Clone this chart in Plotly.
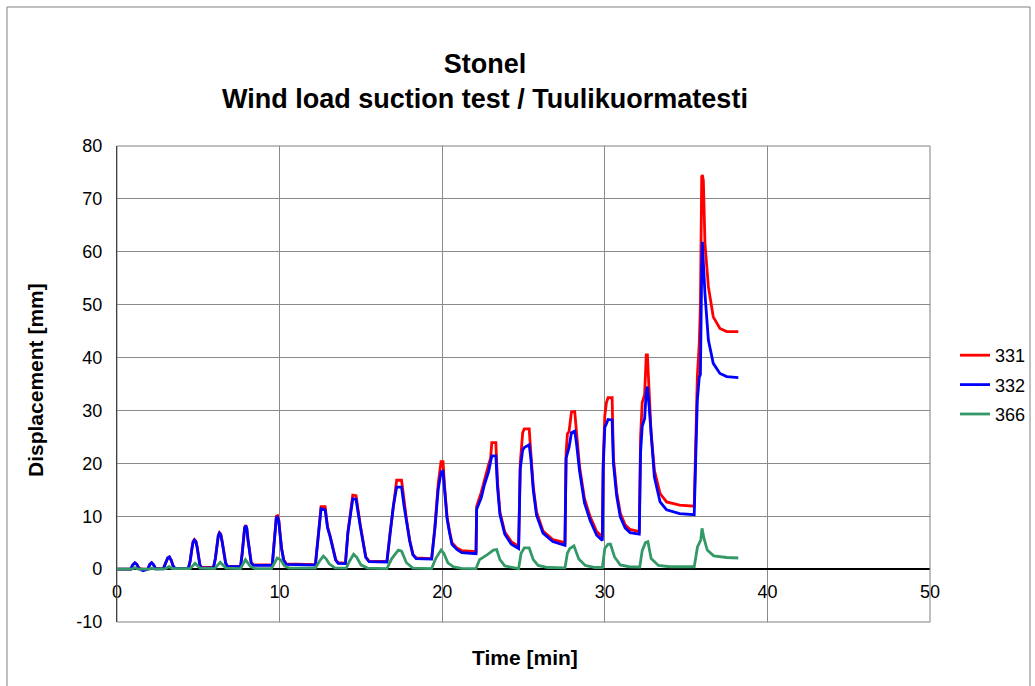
import plotly.graph_objects as go

# ---------------- data ----------------
series_names = ["331", "332", "366"]
series_colors = ["#FF0000", "#0000FF", "#339966"]

# time vertices shared by sensors 331 and 332 [min]
t_rb = [0.0, 0.85, 0.97, 1.1, 1.22, 1.35, 1.6, 1.9,
        2.02, 2.13, 2.25, 2.38, 2.85,
        3.0, 3.12, 3.22, 3.33, 3.45, 3.57, 4.39,
        4.5, 4.6, 4.68, 4.76, 4.85, 4.93, 5.02, 5.1, 5.2, 5.93,
        6.05, 6.15, 6.23, 6.3, 6.38, 6.47, 6.57, 6.68, 6.8, 7.6,
        7.7, 7.78, 7.85, 7.92, 7.98, 8.06, 8.15, 8.25, 8.38, 9.55,
        9.65, 9.73, 9.8, 9.87, 9.95, 10.02, 10.12, 10.25, 10.4, 12.2,
        12.35, 12.55, 12.8, 12.95, 13.1, 13.25, 13.45, 13.6, 14.05,
        14.2, 14.5, 14.7, 14.8, 14.95, 15.15, 15.3, 15.5, 16.6,
        16.8, 17.0, 17.2, 17.5, 17.65, 17.8, 18.0, 18.2, 18.4, 19.35,
        19.55, 19.75, 19.93, 20.05, 20.15, 20.3, 20.45, 20.6, 20.9, 21.2, 22.08,
        22.12, 22.4, 22.6, 22.85, 22.98, 23.05, 23.3, 23.4, 23.55, 23.85, 24.25, 24.7,
        24.8, 24.95, 25.05, 25.35, 25.45, 25.6, 25.8, 26.2, 26.8, 27.55,
        27.62, 27.7, 27.8, 27.95, 28.15, 28.25, 28.45, 28.75, 29.1, 29.5, 29.85,
        29.9, 30.0, 30.1, 30.2, 30.45, 30.53, 30.73, 30.95, 31.25, 31.55, 32.12,
        32.2, 32.3, 32.45, 32.55, 32.62, 32.72, 32.85, 33.05, 33.4, 33.8, 34.6, 35.5,
        35.6, 35.69, 35.81, 35.88, 35.96, 36.0, 36.06, 36.16, 36.37, 36.67, 37.08, 37.5, 38.21]

# displacement of sensor 331 [mm]
d_331 = [0.0, 0.0, 0.8, 1.2, 0.9, 0.15, 0.0, 0.05,
         0.9, 1.2, 0.8, 0.1, 0.1,
         1.2, 2.1, 2.3, 1.7, 0.6, 0.1, 0.2,
         1.5, 3.8, 5.2, 5.6, 5.3, 4.2, 2.2, 0.8, 0.3, 0.3,
         2.0, 4.8, 6.4, 6.9, 6.6, 5.2, 3.0, 1.2, 0.5, 0.5,
         3.0, 6.0, 7.9, 8.3, 7.8, 5.5, 3.0, 1.3, 0.8, 0.8,
         4.5, 8.5, 10.0, 10.1, 9.3, 7.0, 4.0, 1.8, 1.0, 0.85,
         6.0, 11.8, 11.8, 8.0, 6.4, 4.5, 1.8, 1.2, 1.15,
         7.0, 14.0, 13.9, 11.5, 8.6, 5.0, 2.3, 1.5, 1.45,
         7.0, 12.5, 16.8, 16.8, 12.5, 9.5, 5.5, 2.8, 2.1, 2.0,
         8.0, 16.0, 20.3, 20.3, 15.5, 9.9, 7.2, 5.0, 4.0, 3.5, 3.3,
         11.9, 14.5, 17.0, 19.7, 21.0, 23.9, 23.9, 16.5, 10.8, 7.0, 5.2, 4.3,
         20.0, 25.8, 26.5, 26.5, 22.0, 15.6, 10.8, 7.2, 5.6, 5.0,
         22.0, 25.6, 26.0, 29.7, 29.8, 26.0, 19.3, 13.3, 9.9, 7.1, 6.1,
         20.0, 29.0, 31.5, 32.4, 32.4, 21.0, 14.6, 10.6, 8.4, 7.5, 7.1,
         25.0, 31.5, 33.0, 40.5, 40.5, 34.0, 25.6, 18.7, 14.3, 12.7, 12.1, 11.9,
         23.1, 36.3, 42.7, 50.0, 74.2, 74.5, 73.5, 61.6, 53.4, 47.7, 45.5, 44.9, 44.9]

# displacement of sensor 332 [mm]
d_332 = [0.0, 0.0, 0.8, 1.2, 0.9, 0.1, -0.3, 0.0,
         0.9, 1.2, 0.8, 0.05, 0.05,
         1.2, 2.1, 2.3, 1.7, 0.6, 0.1, 0.15,
         1.5, 3.7, 5.1, 5.5, 5.2, 4.1, 2.1, 0.7, 0.25, 0.25,
         2.0, 4.7, 6.3, 6.8, 6.5, 5.1, 2.9, 1.1, 0.45, 0.45,
         3.0, 5.9, 7.8, 8.2, 7.7, 5.4, 2.9, 1.2, 0.7, 0.7,
         4.4, 8.3, 9.7, 9.8, 9.1, 6.8, 3.9, 1.7, 0.9, 0.75,
         5.8, 11.4, 11.2, 7.8, 6.2, 4.3, 1.7, 1.1, 1.05,
         6.8, 13.3, 13.2, 11.0, 8.3, 4.8, 2.2, 1.4, 1.35,
         6.8, 12.0, 15.5, 15.5, 12.0, 9.1, 5.3, 2.7, 2.0, 1.9,
         7.6, 15.0, 18.4, 18.5, 14.8, 9.5, 6.9, 4.7, 3.7, 3.1, 2.9,
         11.3, 13.5, 16.0, 18.4, 20.5, 21.4, 21.4, 15.6, 10.3, 6.6, 4.7, 3.9,
         19.0, 22.5, 23.0, 23.5, 21.0, 15.0, 10.2, 6.8, 5.2, 4.5,
         21.0, 22.0, 23.0, 25.8, 26.1, 24.0, 18.5, 12.5, 9.2, 6.4, 5.4,
         19.0, 26.8, 27.5, 28.3, 28.2, 20.0, 13.8, 9.9, 7.8, 6.9, 6.6,
         22.0, 27.0, 28.5, 33.5, 34.5, 31.0, 25.0, 17.4, 12.7, 11.2, 10.5, 10.3,
         22.0, 31.9, 36.3, 36.8, 57.0, 61.9, 58.0, 52.1, 43.3, 38.9, 37.0, 36.4, 36.2]

# time vertices of sensor 366 [min]
t_366 = [0.0, 0.9, 1.1, 1.3, 2.0, 2.15, 2.35, 3.0, 3.2, 3.4,
         4.5, 4.8, 5.1, 6.0, 6.35, 6.7, 7.6, 7.9, 8.2, 8.5,
         9.5, 9.85, 10.05, 10.3, 10.6, 12.2, 12.45, 12.69, 12.85, 13.05, 13.4,
         14.1, 14.3, 14.55, 14.75, 15.0, 15.4, 16.6, 16.9, 17.3, 17.5, 17.8, 18.2,
         19.35, 19.6, 19.93, 20.1, 20.35, 20.7, 21.2, 22.08, 22.3, 22.8, 23.15, 23.35,
         23.55, 23.85, 24.7, 24.85, 25.05, 25.35, 25.6, 25.9, 26.5, 27.55,
         27.7, 27.85, 28.1, 28.4, 28.8, 29.4, 29.85, 30.0, 30.2, 30.35, 30.6, 30.95,
         31.5, 32.15, 32.3, 32.5, 32.65, 32.85, 33.3, 34.0, 35.5, 35.7, 35.9, 35.98,
         36.1, 36.3, 36.7, 37.5, 38.21]

# displacement of sensor 366 [mm]
d_366 = [0.0, 0.0, 0.25, 0.0, 0.0, 0.2, 0.0, 0.1, 0.5, 0.1,
         0.1, 1.1, 0.2, 0.1, 1.3, 0.2, 0.1, 1.8, 0.5, 0.1,
         0.1, 2.1, 1.8, 0.6, 0.2, 0.2, 1.5, 2.45, 2.0, 1.0, 0.25,
         0.2, 1.5, 2.8, 2.2, 0.8, 0.2, 0.1, 2.0, 3.6, 3.4, 1.2, 0.2,
         0.1, 2.0, 3.6, 3.0, 1.2, 0.4, 0.15, 0.1, 1.8, 2.8, 3.6, 3.7,
         1.8, 0.6, 0.1, 3.0, 4.0, 4.0, 1.8, 0.7, 0.3, 0.25,
         3.0, 3.9, 4.4, 1.9, 0.7, 0.3, 0.3, 3.9, 4.7, 4.7, 2.3, 0.8,
         0.45, 0.4, 3.5, 5.0, 5.2, 2.0, 0.7, 0.45, 0.45, 4.2, 5.5, 7.7,
         5.8, 3.6, 2.5, 2.2, 2.1]

assert len(t_rb) == len(d_331) == len(d_332)
assert len(t_366) == len(d_366)

x_ticks = [0, 10, 20, 30, 40, 50]
y_ticks = [-10, 0, 10, 20, 30, 40, 50, 60, 70, 80]

chart_title = "Stonel<br>Wind load suction test / Tuulikuormatesti"
x_title = "Time [min]"
y_title = "Displacement [mm]"

# ---------------- figure ----------------
FONT = "Liberation Sans, Arial, Helvetica, sans-serif"
W, H = 1035, 686
L, R, T, B = 117, 105, 146, 64
PW, PH = W - L - R, H - T - B

def px_x(px):
    return (px - L) / PW

def px_y(py):
    return (H - B - py) / PH

fig = go.Figure()
xs = [t_rb, t_rb, t_366]
ys = [d_331, d_332, d_366]
for i, name in enumerate(series_names):
    fig.add_trace(go.Scatter(
        x=xs[i], y=ys[i], mode="lines", name=name,
        legendgroup=name,
        line=dict(color=series_colors[i], width=2.8),
    ))

zero_frac = (0 - y_ticks[0]) / (y_ticks[-1] - y_ticks[0])

fig.update_layout(
    width=W, height=H,
    margin=dict(l=L, r=R, t=T, b=B, autoexpand=False),
    paper_bgcolor="white", plot_bgcolor="white",
    font=dict(family=FONT, color="black", size=18),
    title=dict(text=chart_title, x=485 / W, xanchor="center",
               y=1 - 73 / H, yanchor="middle",
               font=dict(family=FONT, size=27, color="black", weight="bold")),
    showlegend=True,
    legend=dict(x=px_x(955), xanchor="left", y=px_y(337), yanchor="top",
                font=dict(family=FONT, size=18, color="black"),
                tracegroupgap=3, bgcolor="rgba(0,0,0,0)"),
    xaxis=dict(range=[x_ticks[0], x_ticks[-1]], tickvals=x_ticks,
               ticktext=[str(v) for v in x_ticks],
               showgrid=True, gridcolor="#8a8a8a", gridwidth=1,
               zeroline=False, showline=False, ticks="",
               anchor="free", position=zero_frac,
               ticklabelstandoff=10,
               tickfont=dict(family=FONT, size=18, color="black")),
    yaxis=dict(range=[y_ticks[0], y_ticks[-1]], tickvals=y_ticks,
               ticktext=[str(v) for v in y_ticks],
               showgrid=True, gridcolor="#8a8a8a", gridwidth=1,
               zeroline=True, zerolinecolor="black", zerolinewidth=1.5,
               showline=True, linecolor="black", linewidth=1.2, ticks="",
               ticklabelstandoff=10,
               tickfont=dict(family=FONT, size=18, color="black")),
    shapes=[
        dict(type="rect", xref="paper", yref="paper", x0=0, x1=1, y0=0, y1=1,
             line=dict(color="#808080", width=1), layer="above"),
        dict(type="rect", xref="paper", yref="paper",
             x0=px_x(7), x1=px_x(1030), y0=px_y(692), y1=px_y(7),
             line=dict(color="#808080", width=1), layer="below"),
    ],
    annotations=[
        dict(text=x_title, xref="paper", yref="paper", x=px_x(525), y=px_y(657),
             xanchor="center", yanchor="middle", showarrow=False,
             font=dict(family=FONT, size=21, color="black", weight="bold")),
        dict(text=y_title, xref="paper", yref="paper", x=px_x(35), y=px_y(380),
             xanchor="center", yanchor="middle", showarrow=False, textangle=-90,
             font=dict(family=FONT, size=21, color="black", weight="bold")),
    ],
)

fig.write_html("out.html",
               config={"displayModeBar": False},
               post_script="document.body.style.margin='0';document.body.style.padding='0';")
